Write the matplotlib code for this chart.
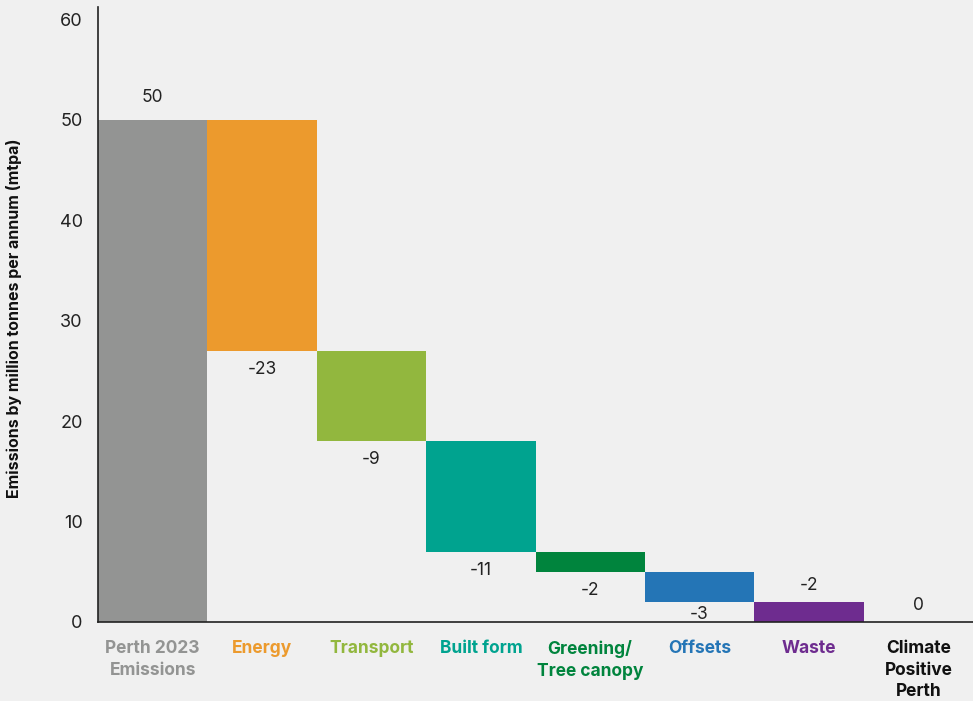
import numpy as np
import matplotlib.pyplot as plt

plt.rcParams['font.family'] = ['Inter', 'DejaVu Sans']

categories = ['Perth 2023\nEmissions', 'Energy', 'Transport', 'Built form',
              'Greening/\nTree canopy', 'Offsets', 'Waste', 'Climate\nPositive\nPerth']
changes = [50, -23, -9, -11, -2, -3, -2, 0]
colors = ['#939493', '#EC9A2D', '#92B73E', '#00A38F', '#00843D', '#2475B6', '#6E2C8F', '#000000']
label_colors = ['#939493', '#EC9A2D', '#92B73E', '#00A38F', '#00843D', '#2475B6', '#6E2C8F', '#111111']
# label goes above ('a') or below ('b') the bar, and how far away (data units)
label_pos = ['a', 'b', 'b', 'b', 'b', 'b', 'a', 'a']
label_gap = [1.3, 1.0, 1.0, 1.0, 1.0, 0.45, 0.75, 0.75]

bg = '#F0F0F0'
fig = plt.figure(figsize=(9.73, 7.01), dpi=100, facecolor=bg)
ax = fig.add_axes([98/973, 79/701, 875/973, 615/701], facecolor=bg)

x = np.arange(len(categories))
running = 0
for i, c in enumerate(changes):
    if i == 0:
        bottom, height = 0, c
        running = c
    else:
        bottom, height = running + c, -c
        running += c
    if height > 0:
        ax.bar(x[i], height, bottom=bottom, width=1.0, color=colors[i], linewidth=0)
    top = bottom + height
    if label_pos[i] == 'a':
        ax.text(x[i], top + label_gap[i], str(c), ha='center', va='bottom', fontsize=12.5,
                color='#222222')
    else:
        ax.text(x[i], bottom - label_gap[i], str(c), ha='center', va='top', fontsize=12.5,
                color='#222222')

ax.set_xlim(-0.5, len(categories) - 0.5)
ax.set_ylim(0, 61.2)
ax.set_yticks(np.arange(0, 61, 10))
ax.tick_params(axis='y', length=0, labelsize=13, pad=11, labelcolor='#222222')
ax.tick_params(axis='x', length=0, pad=13)
ax.set_xticks(x)
ax.set_xticklabels(categories, fontsize=12.5, fontweight='bold', linespacing=1.35, va='top')
for lbl, col in zip(ax.get_xticklabels(), label_colors):
    lbl.set_color(col)

for s in ['top', 'right']:
    ax.spines[s].set_visible(False)
ax.spines['left'].set_color('#222222')
ax.spines['bottom'].set_color('#222222')
ax.spines['left'].set_linewidth(1.2)
ax.spines['bottom'].set_linewidth(1.2)

ax.set_ylabel('Emissions by million tonnes per annum (mtpa)', fontsize=11.5,
              fontweight='bold', color='#111111')
ax.yaxis.set_label_coords(-0.087, 0.494)

plt.savefig('out.png', dpi=100, facecolor=bg)
